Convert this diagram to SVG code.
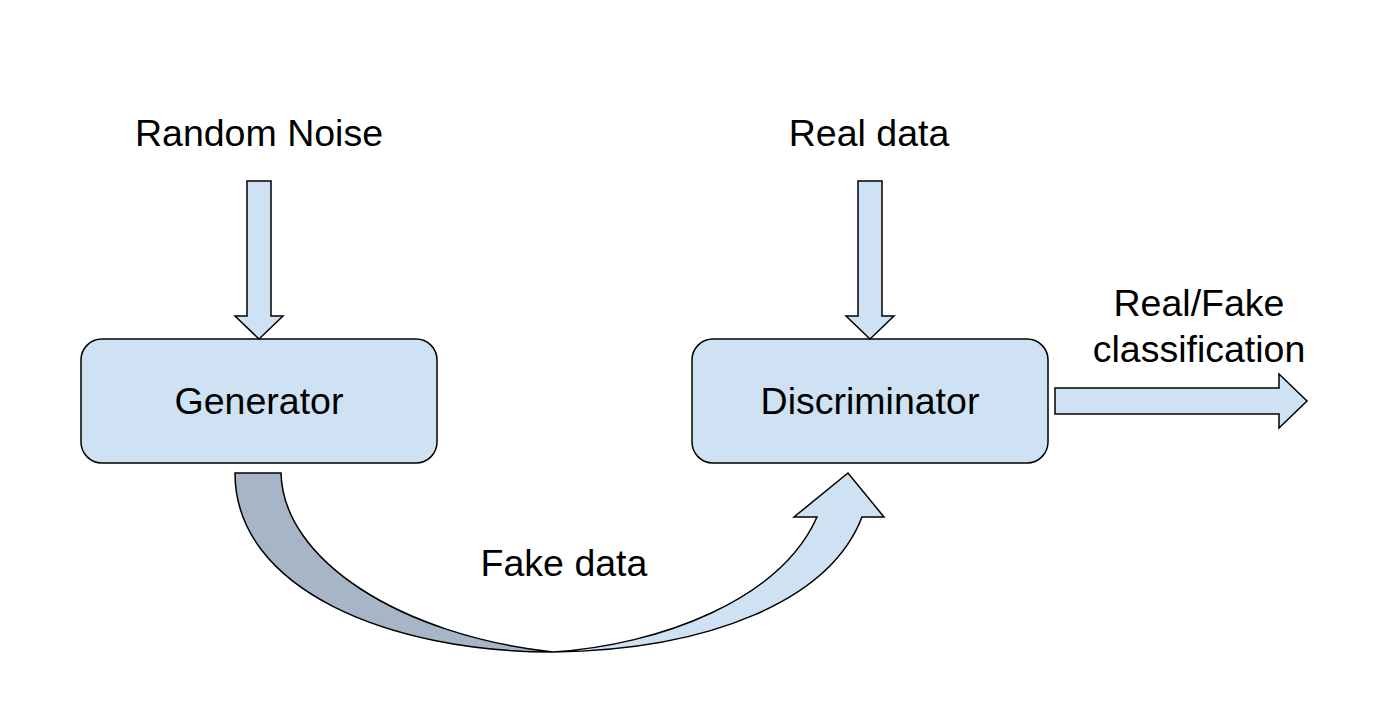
<svg xmlns="http://www.w3.org/2000/svg" width="1400" height="701" viewBox="0 0 1400 701">
<style>
.box{fill:#cfe2f3;stroke:#000;stroke-width:1.5}
.arr{fill:#cfe2f3;stroke:#000;stroke-width:1.5;stroke-linejoin:miter}
.dark{fill:#a6b6c6;stroke:#000;stroke-width:1.5}
.t{font-family:"Liberation Sans",Arial,sans-serif;font-size:37.5px;fill:#000;text-anchor:middle}
</style>
<rect width="1400" height="701" fill="#fff"/>
<g id="label-random-noise"><text class="t" x="259" y="146">Random Noise</text></g>
<g id="label-real-data"><text class="t" x="869" y="146">Real data</text></g>
<g id="generator">
<rect class="box" x="81" y="339" width="356" height="124" rx="21" ry="21"/>
<text class="t" x="259" y="414">Generator</text>
</g>
<g id="discriminator">
<rect class="box" x="692" y="339" width="356" height="124" rx="21" ry="21"/>
<text class="t" x="870" y="414">Discriminator</text>
</g>
<g id="label-real-fake"><text class="t" x="1199" y="316">Real/Fake</text><text class="t" x="1199" y="362">classification</text></g>
<g id="label-fake-data"><text class="t" x="564" y="576">Fake data</text></g>
<g id="connectors">
<path class="arr" d="M247,181 H271 V316 H283 L259,339 L235,316 H247 Z"/>
<path class="arr" d="M858,181 H882 V316 H894 L870,339 L846,316 H858 Z"/>
<path class="arr" d="M1055,388 H1279 V374 L1307,401 L1279,428 V414 H1055 Z"/>
<path class="dark" d="M235,473 H281 C283,560 400,635 553,652 C390,652 235,590 235,473 Z"/>
<path class="arr" d="M553,652 C710,650 830,600 862,517 H884 L848,473 L794,517 H817 C780,600 660,645 553,652 Z"/>
</g>
</svg>
